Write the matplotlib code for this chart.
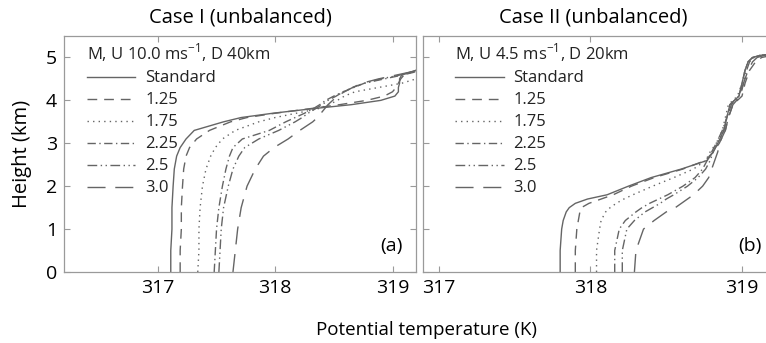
import matplotlib
matplotlib.use("Agg")
import matplotlib.pyplot as plt

plt.rcParams['font.family'] = ['Open Sans', 'DejaVu Sans']
plt.rcParams['mathtext.fontset'] = 'custom'
plt.rcParams['mathtext.rm'] = 'Open Sans'

# legend labels / line styles
labels = ["Standard", "1.25", "1.75", "2.25", "2.5", "3.0"]
styles = ['-', (0, (7, 5)), (0, (1, 3)), (0, (6, 2.5, 1, 2.5)),
          (0, (7, 2.5, 1, 2.5, 1, 2.5)), (0, (13, 7))]

# Case I heights (km) and potential temperature (K) per run
heights_a = [0, 0.5, 1.0, 1.5, 2.0, 2.4, 2.7, 2.9, 3.1, 3.3, 3.5, 3.6, 3.7,
             3.8, 3.9, 4.0, 4.1, 4.2, 4.3, 4.4, 4.5, 4.6, 4.7]
theta_a = [
    [317.11, 317.11, 317.12, 317.12, 317.13, 317.14, 317.16, 317.19, 317.24, 317.31, 317.56, 317.71,
     317.98, 318.30, 318.65, 318.90, 319.02, 319.05, 319.05, 319.06, 319.06, 319.08, 319.20],
    [317.19, 317.19, 317.20, 317.20, 317.21, 317.22, 317.24, 317.27, 317.33, 317.44, 317.62, 317.76,
     318.00, 318.28, 318.55, 318.78, 318.93, 319.00, 319.03, 319.05, 319.07, 319.10, 319.20],
    [317.34, 317.35, 317.35, 317.36, 317.38, 317.41, 317.45, 317.49, 317.55, 317.66, 317.86, 318.00,
     318.18, 318.36, 318.46, 318.53, 318.59, 318.68, 318.88, 319.08, 319.20, 319.35, 319.45],
    [317.48, 317.49, 317.50, 317.52, 317.55, 317.58, 317.61, 317.64, 317.72, 317.95, 318.09, 318.17,
     318.25, 318.32, 318.38, 318.43, 318.50, 318.58, 318.67, 318.76, 318.93, 319.10, 319.25],
    [317.52, 317.53, 317.54, 317.56, 317.60, 317.64, 317.69, 317.74, 317.86, 318.03, 318.17, 318.23,
     318.28, 318.34, 318.40, 318.45, 318.52, 318.58, 318.66, 318.76, 318.90, 319.08, 319.25],
    [317.64, 317.66, 317.68, 317.71, 317.76, 317.83, 317.90, 317.99, 318.11, 318.21, 318.32, 318.36,
     318.39, 318.42, 318.45, 318.49, 318.53, 318.59, 318.66, 318.74, 318.88, 319.05, 319.22],
]

# Case II
heights_b = [0, 0.5, 1.0, 1.2, 1.4, 1.5, 1.6, 1.7, 1.8, 2.0, 2.2, 2.4, 2.6, 2.8, 3.0,
             3.3, 3.6, 3.9, 4.1, 4.4, 4.7, 4.9, 5.0, 5.05, 5.1]
theta_b = [
    [317.80, 317.80, 317.81, 317.82, 317.84, 317.86, 317.90, 317.98, 318.11, 318.25, 318.40, 318.60,
     318.77, 318.81, 318.84, 318.88, 318.90, 318.92, 318.98, 319.00, 319.02, 319.04, 319.07, 319.12, 319.30],
    [317.90, 317.90, 317.91, 317.92, 317.93, 317.94, 317.99, 318.07, 318.15, 318.27, 318.42, 318.61,
     318.76, 318.81, 318.85, 318.89, 318.91, 318.94, 319.00, 319.02, 319.05, 319.09, 319.13, 319.20, 319.35],
    [318.04, 318.04, 318.06, 318.07, 318.10, 318.13, 318.17, 318.22, 318.28, 318.41, 318.55, 318.68,
     318.76, 318.79, 318.83, 318.87, 318.89, 318.91, 318.97, 319.00, 319.02, 319.04, 319.07, 319.12, 319.30],
    [318.16, 318.16, 318.19, 318.23, 318.30, 318.34, 318.39, 318.45, 318.51, 318.61, 318.69, 318.74,
     318.77, 318.80, 318.83, 318.87, 318.90, 318.92, 318.98, 319.00, 319.02, 319.04, 319.07, 319.12, 319.30],
    [318.21, 318.21, 318.24, 318.29, 318.36, 318.41, 318.46, 318.50, 318.55, 318.64, 318.71, 318.76,
     318.79, 318.81, 318.84, 318.88, 318.90, 318.93, 318.98, 319.01, 319.03, 319.05, 319.08, 319.13, 319.30],
    [318.29, 318.30, 318.35, 318.42, 318.50, 318.56, 318.60, 318.64, 318.68, 318.74, 318.78, 318.80,
     318.82, 318.84, 318.85, 318.89, 318.91, 318.94, 318.99, 319.01, 319.04, 319.07, 319.10, 319.15, 319.30],
]

titles = ["Case I (unbalanced)", "Case II (unbalanced)"]
legend_titles = ["M, U 10.0 ms$^{-1}$, D 40km", "M, U 4.5 ms$^{-1}$, D 20km"]
panel_tags = ["(a)", "(b)"]

line_color = "#656565"
frame_color = "#9a9a9a"

fig = plt.figure(figsize=(7.66, 3.43), dpi=100)
ax_a = fig.add_axes([64 / 766, 71 / 343, 352 / 766, 236 / 343])
ax_b = fig.add_axes([423 / 766, 71 / 343, 366 / 766, 236 / 343])

panels = [
    (ax_a, heights_a, theta_a, (316.2, 319.2), 0.5, 0.898),
    (ax_b, heights_b, theta_b, (316.895, 319.31), 0.466, 0.862),
]

for i, (ax, hts, thetas, xl, tx, tagx) in enumerate(panels):
    for th, lab, ls in zip(thetas, labels, styles):
        ax.plot(th, hts, color=line_color, lw=1.0, linestyle=ls, label=lab)
    ax.set_xlim(xl)
    ax.set_ylim(0, 5.5)
    ax.set_xticks([317, 318, 319])
    ax.set_yticks(range(6))
    ax.tick_params(direction='in', length=4, width=0.8, color=frame_color,
                   top=True, right=True, labelsize=14, pad=5)
    for sp in ax.spines.values():
        sp.set_color(frame_color)
        sp.set_linewidth(0.9)
    ax.text(tx, 1.035, titles[i], transform=ax.transAxes, ha='center',
            va='bottom', fontsize=14.5)
    leg = ax.legend(title=legend_titles[i], loc='upper left',
                    bbox_to_anchor=(0.065 if i == 0 else 0.088, 0.975),
                    frameon=False, fontsize=12, title_fontsize=12,
                    handlelength=2.9, handletextpad=0.6, labelspacing=0.36,
                    borderpad=0, borderaxespad=0, alignment='left')
    for t in leg.get_texts():
        t.set_color('#222222')
    leg.get_title().set_color('#222222')
    ax.text(tagx, 0.11, panel_tags[i], transform=ax.transAxes, ha='left',
            va='center', fontsize=14)

ax_b.tick_params(labelleft=False)
ax_a.set_ylabel("Height (km)", fontsize=14.5, labelpad=10)
fig.text(426 / 766, 1 - 330 / 343, "Potential temperature (K)", ha='center',
         va='center', fontsize=13.5)

fig.savefig("out.png", dpi=100)
